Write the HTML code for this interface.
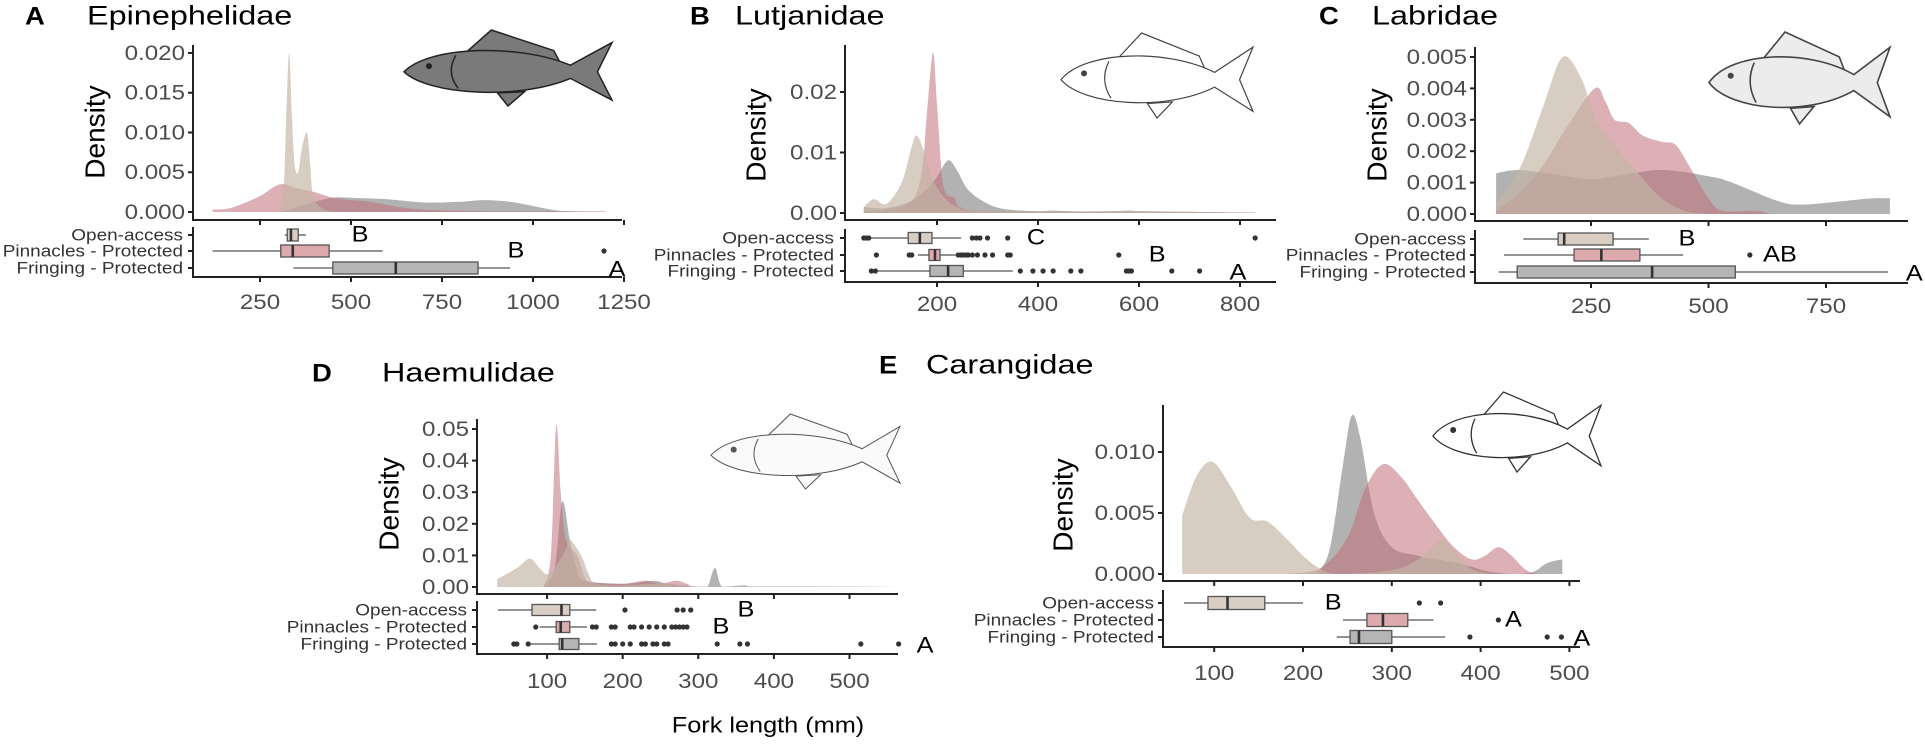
<!DOCTYPE html>
<html><head><meta charset="utf-8"><title>Fork length density by family</title>
<style>
html,body{margin:0;padding:0;background:#fff;}
svg{display:block;font-family:"Liberation Sans",Arial,sans-serif;}
</style></head>
<body>
<svg id="fig" width="1925" height="744" viewBox="0 0 1925 744">
<rect width="1925" height="744" fill="#fff"/>
<g id="fish"></g>
</svg>
<script>
// ===== DATA =====
const groups = ['Open-access','Pinnacles - Protected','Fringing - Protected'];
const xTicksA = [250,500,750,1000,1250];
const yTicksA = [0,0.005,0.010,0.015,0.020];
const dAopenX = [300,315,322,330,338,345,355,365,379,388,396,420,450];
const dAopenY = [0,0.003,0.012,0.020,0.012,0.006,0.005,0.008,0.010,0.006,0.002,0.0005,0];
const dApinX = [120,160,200,250,305,350,400,450,500,550,650,750,900,1200];
const dApinY = [0.0003,0.0004,0.001,0.002,0.0035,0.003,0.0025,0.0018,0.0015,0.0013,0.0005,0.0002,0.0001,0.0001];
const dAfrX = [300,321,400,450,500,600,700,800,870,950,1050,1100,1200];
const dAfrY = [0,0.0002,0.0013,0.0018,0.0018,0.0016,0.0012,0.0013,0.0015,0.0012,0.0003,0.0001,0];
const boxAopen = [318,325,335,355,376];
const boxApin = [120,307,340,440,587];
const boxAfr = [342,450,623,849,937];
const outAopen = [];
const outApin = [1195];
const outAfr = [];
const lettersA = ['B','B','A'];
const letterPosA = [525,953,1231];

const xTicksB = [200,400,600,800];
const yTicksB = [0,0.01,0.02];
const dBopenX = [55,75,100,130,150,160,175,190,210,240,300,600,830];
const dBopenY = [0.001,0.0023,0.0015,0.005,0.011,0.0128,0.010,0.006,0.003,0.001,0.0003,0.0003,0];
const dBpinX = [55,100,150,170,180,192,200,210,220,235,245,300,830];
const dBpinY = [0.0003,0.0005,0.002,0.007,0.0164,0.0265,0.018,0.006,0.003,0.0025,0.001,0.0003,0.0001];
const dBfrX = [55,100,150,180,200,222,240,260,290,330,400,430,500,580,600,700,830];
const dBfrY = [0.001,0.0008,0.002,0.004,0.006,0.0087,0.007,0.004,0.002,0.0007,0.0003,0.0004,0.0002,0.0004,0.0003,0.0002,0];
const boxBopen = [70,143,166,190,248];
const boxBpin = [162,184,196,206,237];
const boxBfr = [83,186,222,252,350];
const outBopen = [55,60,65,270,278,285,300,340,830];
const outBpin = [80,145,150,242,248,252,258,262,270,280,295,310,340,345,560];
const outBfr = [70,78,365,390,410,430,465,485,575,580,585,665,720];
const lettersB = ['C','B','A'];
const letterPosB = [396,636,796];

const xTicksC = [250,500,750];
const yTicksC = [0,0.001,0.002,0.003,0.004,0.005];
const dCopenX = [48,100,150,190,230,260,300,350,400,450,500];
const dCopenY = [0.0003,0.0015,0.0035,0.005,0.0043,0.003,0.0022,0.0013,0.0005,0.0001,0];
const dCpinX = [48,100,150,200,258,280,300,330,360,400,430,460,500,530,600,630];
const dCpinY = [0.0001,0.0007,0.0016,0.0028,0.004,0.0036,0.003,0.0029,0.0025,0.0023,0.0022,0.0015,0.0005,0.0001,0.0001,0];
const dCfrX = [48,100,200,250,300,400,500,550,650,700,780,850,886];
const dCfrY = [0.0013,0.0014,0.0012,0.0011,0.0012,0.0014,0.0012,0.001,0.0004,0.0003,0.0004,0.0005,0.0005];
const boxCopen = [106,180,193,297,373];
const boxCpin = [65,214,272,354,446];
const boxCfr = [54,93,380,557,882];
const outCopen = [];
const outCpin = [588];
const outCfr = [];
const lettersC = ['B','AB','A'];
const letterPosC = [454,652,938];

const xTicksD = [100,200,300,400,500];
const yTicksD = [0,0.01,0.02,0.03,0.04,0.05];
const dDopenX = [34,60,77,90,100,110,125,130,145,155,165,200,250,300,400,500,570];
const dDopenY = [0.0025,0.006,0.009,0.006,0.004,0.006,0.012,0.015,0.01,0.004,0.001,0.0005,0.001,0.0002,0.0003,0.0002,0];
const dDpinX = [95,105,112,118,125,140,150,160,200,230,250,270,285,300,570];
const dDpinY = [0,0.01,0.051,0.03,0.015,0.01,0.003,0.0015,0.001,0.002,0.001,0.002,0.001,0,0];
const dDfrX = [95,110,120,130,140,150,200,240,260,300,312,322,332,360,380,570];
const dDfrY = [0,0.006,0.027,0.015,0.005,0.002,0.001,0.002,0.001,0,0,0.006,0,0.0005,0,0];
const boxDopen = [35,80,119,130,165];
const boxDpin = [90,112,118,130,153];
const boxDfr = [77,116,120,142,166];
const outDopen = [203,272,280,290];
const outDpin = [85,160,165,185,190,210,215,225,235,245,255,265,270,275,280,285];
const outDfr = [56,60,75,185,190,200,210,225,230,240,245,255,260,325,355,365,515,565];
const lettersD = ['B','B','A'];
const letterPosD = [363,330,600];

const xTicksE = [100,200,300,400,500];
const yTicksE = [0,0.005,0.010];
const dEopenX = [64,80,98,120,140,160,180,200,220,240,300,330,356,370,390,420,490];
const dEopenY = [0.0048,0.008,0.0092,0.007,0.0046,0.0043,0.003,0.0015,0.0004,0,0.0003,0.0012,0.0028,0.002,0.0004,0,0];
const dEpinX = [180,220,250,270,290,310,330,350,370,390,405,420,435,450,465,490];
const dEpinY = [0,0.0005,0.003,0.007,0.009,0.008,0.006,0.004,0.0022,0.0012,0.0015,0.0022,0.0015,0.0004,0,0];
const dEfrX = [215,230,245,255,265,280,300,330,350,380,410,440,460,475,492];
const dEfrY = [0,0.002,0.009,0.013,0.011,0.005,0.0022,0.0015,0.0012,0.0008,0.0002,0,0.0002,0.0009,0.0012];
const boxEopen = [66,93,115,157,200];
const boxEpin = [245,272,290,318,347];
const boxEfr = [238,253,263,300,360];
const outEopen = [331,355];
const outEpin = [420];
const outEfr = [388,475,491];
const lettersE = ['B','A','A'];
const letterPosE = [234,437,514];

// ===== DRAWING =====
const NS='http://www.w3.org/2000/svg';
const svg=document.getElementById('fig');
const SX=1.15;
function mk(tag,attrs,parent){const e=document.createElementNS(NS,tag);for(const k in attrs)e.setAttribute(k,attrs[k]);(parent||svg).appendChild(e);return e;}
function txt(parent,x,y,s,size,anchor,fill,sx,weight){
  const t=mk('text',{x:0,y:0,'font-size':size,'text-anchor':anchor,'dominant-baseline':'central',fill:fill,transform:'translate('+x+','+y+') scale('+sx+',1)'},parent);
  if(weight)t.setAttribute('font-weight',weight);
  t.textContent=s;return t;
}
const FILLS=[{f:'rgb(196,182,166)',o:0.68},{f:'rgb(192,112,120)',o:0.55},{f:'rgb(130,130,130)',o:0.62}];
const BOXF=['#d8cec4','#dca9ad','#b5b5b5'];
function smoothPath(pts,base){
  let d='M'+pts[0][0].toFixed(1)+','+base+' L'+pts[0][0].toFixed(1)+','+pts[0][1].toFixed(1);
  for(let i=0;i<pts.length-1;i++){
    const p0=pts[Math.max(0,i-1)],p1=pts[i],p2=pts[i+1],p3=pts[Math.min(pts.length-1,i+2)];
    const t=0.5/3;
    let c1x=p1[0]+(p2[0]-p0[0])*t, c1y=Math.min(base,p1[1]+(p2[1]-p0[1])*t);
    let c2x=p2[0]-(p3[0]-p1[0])*t, c2y=Math.min(base,p2[1]-(p3[1]-p1[1])*t);
    c1x=Math.max(p1[0],Math.min(p2[0],c1x));c2x=Math.max(p1[0],Math.min(p2[0],c2x));
    d+=' C'+c1x.toFixed(1)+','+c1y.toFixed(1)+' '+c2x.toFixed(1)+','+c2y.toFixed(1)+' '+p2[0].toFixed(1)+','+p2[1].toFixed(1);
  }
  d+=' L'+pts[pts.length-1][0].toFixed(1)+','+base+' Z';
  return d;
}
function panel(id,L,dens,boxes,outs,letters,letterPos,xTicks,yTicks,dec){
  const g=mk('g',{});
  
  
  const sx=v=>L.x0+L.k*v;
  const sy=v=>L.base-L.ds*v;
  // titles
  const tl=txt(g,L.tlx,L.ty,id.toUpperCase(),25,'start','#000',1.1,'bold');
  
  
  const tn=txt(g,L.tnx,L.ty,L.name,27,'start','#000',1.2);
  
  
  // density series (fringing, pinnacles, open)
  [2,1,0].forEach(i=>{
    const xs=dens[i][0],ys=dens[i][1];
    const pts=xs.map((v,j)=>[sx(v),sy(ys[j])]);
    const p=mk('path',{d:smoothPath(pts,sy(0)),fill:FILLS[i].f,'fill-opacity':FILLS[i].o,stroke:'none'},g);
    
    
  });
  // density axes
  const ay=mk('line',{x1:L.ax,y1:L.dTop,x2:L.ax,y2:L.xAxisY,stroke:'#222','stroke-width':2},g);
  
  
  const axl=mk('line',{x1:L.ax-1,y1:L.xAxisY,x2:L.xRight,y2:L.xAxisY,stroke:'#222','stroke-width':2},g);
  
  
  yTicks.forEach(v=>{
    mk('line',{x1:L.ax-5,y1:sy(v),x2:L.ax,y2:sy(v),stroke:'#222','stroke-width':2},g);
    const t=txt(g,L.ax-8,sy(v),v.toFixed(dec),21,'end','#4d4d4d',SX);
    
    
  });
  xTicks.forEach(v=>{
    mk('line',{x1:sx(v),y1:L.xAxisY,x2:sx(v),y2:L.xAxisY+5,stroke:'#222','stroke-width':2},g);
  });
  const yt=txt(g,0,0,'Density',28,'middle','#000',1);
  yt.setAttribute('transform','translate('+L.ytx+','+L.yty+') rotate(-90)');
  
  
  // box panel axes
  const bl=mk('line',{x1:L.ax,y1:L.boxTop,x2:L.ax,y2:L.boxAxisY,stroke:'#222','stroke-width':2},g);
  
  
  const bb=mk('line',{x1:L.ax-1,y1:L.boxAxisY,x2:L.xRight,y2:L.boxAxisY,stroke:'#222','stroke-width':2},g);
  
  
  xTicks.forEach(v=>{
    mk('line',{x1:sx(v),y1:L.boxAxisY,x2:sx(v),y2:L.boxAxisY+5,stroke:'#222','stroke-width':2},g);
    const t=txt(g,sx(v),L.tickY,String(v),21,'middle','#4d4d4d',SX);
    
    
  });
  // boxes
  boxes.forEach((b,i)=>{
    const ry=L.rows[i],h=L.bh;
    mk('line',{x1:L.ax-5,y1:ry,x2:L.ax,y2:ry,stroke:'#222','stroke-width':2},g);
    const lab=txt(g,L.lr,ry,groups[i],16.5,'end','#333',SX);
    
    
    const bg=mk('g',{},g);
    
    
    mk('line',{x1:sx(b[0]),y1:ry,x2:sx(b[1]),y2:ry,stroke:'#555','stroke-width':1.3},bg);
    mk('line',{x1:sx(b[3]),y1:ry,x2:sx(b[4]),y2:ry,stroke:'#555','stroke-width':1.3},bg);
    mk('rect',{x:sx(b[1]),y:ry-h/2,width:Math.max(1,sx(b[3])-sx(b[1])),height:h,fill:BOXF[i],stroke:'#555','stroke-width':1.3},bg);
    mk('line',{x1:sx(b[2]),y1:ry-h/2,x2:sx(b[2]),y2:ry+h/2,stroke:'#333','stroke-width':2.6},bg);
    outs[i].forEach(v=>{
      const c=mk('circle',{cx:sx(v),cy:ry,r:2.6,fill:'#333'},bg);
      
      
    });
    const lt=txt(g,sx(letterPos[i]),ry+(i==2?2:0),letters[i],22,'middle','#000',SX);
    
    
  });
}
panel('a',{name:'Epinephelidae',tlx:25,tnx:87,ty:16,ax:193,dTop:45,base:212,ds:7950,xAxisY:220,xRight:622,x0:169,k:0.364,rows:[235,251,268],boxTop:227,boxAxisY:277,lr:183,tickY:302,bh:12,ytx:95,yty:132},
  [[dAopenX,dAopenY],[dApinX,dApinY],[dAfrX,dAfrY]],[boxAopen,boxApin,boxAfr],[outAopen,outApin,outAfr],lettersA,letterPosA,xTicksA,yTicksA,3);
panel('b',{name:'Lutjanidae',tlx:690,tnx:735,ty:16,ax:845,dTop:45,base:213,ds:6050,xAxisY:220,xRight:1276,x0:836,k:0.505,rows:[238,255,271],boxTop:229,boxAxisY:282,lr:834,tickY:304,bh:11,ytx:756,yty:135},
  [[dBopenX,dBopenY],[dBpinX,dBpinY],[dBfrX,dBfrY]],[boxBopen,boxBpin,boxBfr],[outBopen,outBpin,outBfr],lettersB,letterPosB,xTicksB,yTicksB,2);
panel('c',{name:'Labridae',tlx:1319,tnx:1372,ty:16,ax:1475,dTop:47,base:214,ds:31400,xAxisY:221,xRight:1908,x0:1473.5,k:0.47,rows:[239,255,272],boxTop:230,boxAxisY:283,lr:1466,tickY:306,bh:12,ytx:1377,yty:135},
  [[dCopenX,dCopenY],[dCpinX,dCpinY],[dCfrX,dCfrY]],[boxCopen,boxCpin,boxCfr],[outCopen,outCpin,outCfr],lettersC,letterPosC,xTicksC,yTicksC,3);
panel('d',{name:'Haemulidae',tlx:312,tnx:382,ty:373,ax:477,dTop:419,base:587,ds:3160,xAxisY:594,xRight:898,x0:471.5,k:0.756,rows:[610,627,644],boxTop:601,boxAxisY:654,lr:467,tickY:681,bh:11,ytx:389,yty:504},
  [[dDopenX,dDopenY],[dDpinX,dDpinY],[dDfrX,dDfrY]],[boxDopen,boxDpin,boxDfr],[outDopen,outDpin,outDfr],lettersD,letterPosD,xTicksD,yTicksD,2);
panel('e',{name:'Carangidae',tlx:879,tnx:926,ty:365,ax:1163,dTop:405,base:574,ds:12200,xAxisY:581,xRight:1580,x0:1125.4,k:0.888,rows:[603,620,637],boxTop:590,boxAxisY:647,lr:1154,tickY:673,bh:13,ytx:1063,yty:505},
  [[dEopenX,dEopenY],[dEpinX,dEpinY],[dEfrX,dEfrY]],[boxEopen,boxEpin,boxEfr],[outEopen,outEpin,outEfr],lettersE,letterPosE,xTicksE,yTicksE,3);

const xt=txt(svg,768,726,'Fork length (mm)',22,'middle','#000',SX);



// ===== FISH ILLUSTRATIONS =====
const fishG=document.getElementById('fish');
svg.appendChild(fishG);
function fish(name,x0,y0,w,H,fill,stroke,sw){
  const cy=y0+H*0.55,h=H*0.62;
  const g=mk('g',{},fishG);
  
  
  const d='M'+x0+','+cy+
    ' C'+(x0+0.12*w)+','+(cy-0.55*h)+' '+(x0+0.55*w)+','+(cy-0.6*h)+' '+(x0+0.8*w)+','+(cy-0.14*h)+
    ' L'+(x0+w)+','+(cy-0.62*h)+' L'+(x0+0.93*w)+','+cy+' L'+(x0+w)+','+(cy+0.6*h)+
    ' L'+(x0+0.8*w)+','+(cy+0.14*h)+
    ' C'+(x0+0.55*w)+','+(cy+0.6*h)+' '+(x0+0.12*w)+','+(cy+0.5*h)+' '+x0+','+cy+' Z';
  mk('path',{d:'M'+(x0+0.3*w)+','+(cy-0.42*h)+' L'+(x0+0.42*w)+','+(y0)+' L'+(x0+0.72*w)+','+(cy-0.45*h)+' L'+(x0+0.75*w)+','+(cy-0.2*h)+' Z',fill:fill,stroke:stroke,'stroke-width':sw},g);
  mk('path',{d:'M'+(x0+0.45*w)+','+(cy+0.45*h)+' L'+(x0+0.5*w)+','+(y0+H)+' L'+(x0+0.58*w)+','+(cy+0.42*h)+' Z',fill:fill,stroke:stroke,'stroke-width':sw},g);
  mk('path',{d:d,fill:fill,stroke:stroke,'stroke-width':sw},g);
  mk('circle',{cx:x0+0.12*w,cy:cy-0.12*h,r:3,fill:stroke},g);
  mk('path',{d:'M'+(x0+0.25*w)+','+(cy-0.35*h)+' Q'+(x0+0.2*w)+','+cy+' '+(x0+0.26*w)+','+(cy+0.35*h),fill:'none',stroke:stroke,'stroke-width':sw},g);
}
fish('fish-epinephelidae',404,30,208,76,'#7a7a7a','#222',1.5);
fish('fish-lutjanidae',1061,33,192,85,'#fff','#444',1.2);
fish('fish-labridae',1709,32,181,92,'#ececec','#444',1.6);
fish('fish-haemulidae',711,414,189,75,'#fafafa','#555',1);
fish('fish-carangidae',1433,392,168,80,'#fff','#333',1.3);
</script>
</body></html>
